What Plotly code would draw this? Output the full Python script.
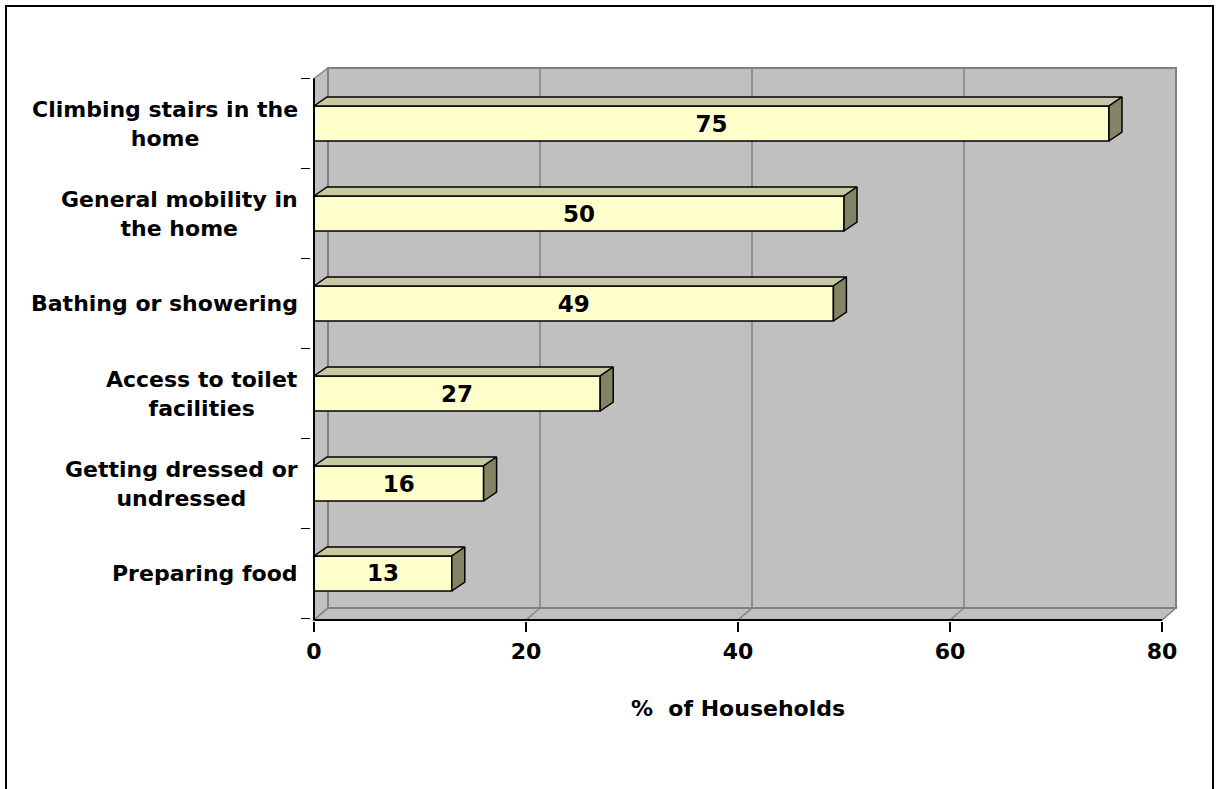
import plotly.graph_objects as go

# ---------------- data ----------------
categories = [
    "Preparing food",
    "Getting dressed or<br>undressed",
    "Access to toilet<br>facilities",
    "Bathing or showering",
    "General mobility in<br>the home",
    "Climbing stairs in the<br>home",
]
values = [13, 16, 27, 49, 50, 75]
x_ticks = [0, 20, 40, 60, 80]
x_title = "%\u00a0 of Households"

# ---------------- geometry / style ----------------
W, H = 1216, 789
FONT = "DejaVu Sans"
X0_PX, X80_PX = 314, 1162
PPU_X = (X80_PX - X0_PX) / 80.0
BAR0_PX = 573.5              # pixel centre of first category
PPU_Y = 90.0
XMIN, XMAX = -0.25, 81.5
YMIN, YMAX = -0.53, 5.64
AXB = -0.517         # front bottom edge
AXT = 5.5            # front top of category axis
XEND = x_ticks[-1]
DXW, DYW = 14 / PPU_X, 12 / PPU_Y     # wall depth
DXB, DYB = 13 / PPU_X, 9 / PPU_Y      # bar depth
BW = 35 / PPU_Y
WALL_TOP = 5.617

WALL = "#C0C0C0"
WALL_EDGE = "#808080"
FRONT = "#FFFFCC"
TOP = "#C8C8A2"
SIDE = "#838366"

dom_x = [(X0_PX + XMIN * PPU_X) / W, (X0_PX + XMAX * PPU_X) / W]
dom_y = [1 - (BAR0_PX - YMIN * PPU_Y) / H, 1 - (BAR0_PX - YMAX * PPU_Y) / H]

ys = list(range(len(categories)))

fig = go.Figure()

# front faces of the bars
fig.add_trace(go.Bar(
    x=values, y=ys, orientation="h", width=BW,
    marker=dict(color=FRONT, line=dict(color="black", width=1.5)),
    text=[str(v) for v in values], textposition="inside",
    insidetextanchor="middle", textangle=0,
    textfont=dict(family=FONT, size=23, color="black", weight="bold"),
    hoverinfo="skip", showlegend=False,
))

# top faces
tx, ty = [], []
for v, y in zip(values, ys):
    yt = y + BW / 2
    tx += [0, v, v + DXB, DXB, 0, None]
    ty += [yt, yt, yt + DYB, yt + DYB, yt, None]
fig.add_trace(go.Scatter(x=tx, y=ty, mode="lines", fill="toself", fillcolor=TOP,
                         line=dict(color="black", width=1.5), hoverinfo="skip",
                         showlegend=False))
# side faces
sx, sy = [], []
for v, y in zip(values, ys):
    yb, yt = y - BW / 2, y + BW / 2
    sx += [v, v + DXB, v + DXB, v, v, None]
    sy += [yb, yb + DYB, yt + DYB, yt, yb, None]
fig.add_trace(go.Scatter(x=sx, y=sy, mode="lines", fill="toself", fillcolor=SIDE,
                         line=dict(color="black", width=1.5), hoverinfo="skip",
                         showlegend=False))

shapes = []
# left side wall
shapes.append(dict(type="path", xref="x", yref="y", layer="below",
                   path=f"M 0,{AXB} L 0,{AXT} L {DXW},{WALL_TOP} L {DXW},{AXB + DYW} Z",
                   fillcolor=WALL, line=dict(color=WALL_EDGE, width=1.5)))
# floor
shapes.append(dict(type="path", xref="x", yref="y", layer="below",
                   path=f"M 0,{AXB} L {XEND},{AXB} L {XEND + DXW},{AXB + DYW} L {DXW},{AXB + DYW} Z",
                   fillcolor=WALL, line=dict(color=WALL_EDGE, width=1.5)))
# back wall
shapes.append(dict(type="rect", xref="x", yref="y", layer="below",
                   x0=DXW, x1=XEND + DXW, y0=AXB + DYW, y1=WALL_TOP,
                   fillcolor=WALL, line=dict(color=WALL_EDGE, width=2)))
# gridlines on wall and floor
for t in x_ticks[1:-1]:
    shapes.append(dict(type="line", xref="x", yref="y", layer="below",
                       x0=t + DXW, x1=t + DXW, y0=AXB + DYW, y1=WALL_TOP,
                       line=dict(color=WALL_EDGE, width=1.5)))
    shapes.append(dict(type="line", xref="x", yref="y", layer="below",
                       x0=t, x1=t + DXW, y0=AXB, y1=AXB + DYW,
                       line=dict(color=WALL_EDGE, width=1.5)))
# front axis lines
shapes.append(dict(type="line", xref="x", yref="y", layer="above",
                   x0=0, x1=XEND, y0=AXB, y1=AXB, line=dict(color="black", width=2)))
shapes.append(dict(type="line", xref="x", yref="y", layer="above",
                   x0=0, x1=0, y0=AXB, y1=AXT, line=dict(color="black", width=2)))
# outer border
shapes.append(dict(type="rect", xref="paper", yref="paper",
                   x0=6 / W, x1=1213 / W, y0=-0.05, y1=1 - 6 / H,
                   line=dict(color="black", width=2), fillcolor="rgba(0,0,0,0)"))

annotations = []
for c, y in zip(categories, ys):
    annotations.append(dict(text=c, x=300 / W, xref="paper", xanchor="right",
                            y=y, yref="y", yanchor="middle", align="center",
                            showarrow=False,
                            font=dict(family=FONT, size=22, color="black", weight="bold")))
annotations.append(dict(text=x_title, x=XEND / 2, xref="x", xanchor="center",
                        y=1 - 708 / H, yref="paper", yanchor="middle",
                        showarrow=False,
                        font=dict(family=FONT, size=22, color="black", weight="bold")))

fig.update_layout(
    template="none",
    width=W, height=H,
    margin=dict(l=0, r=0, t=0, b=0),
    paper_bgcolor="white", plot_bgcolor="rgba(0,0,0,0)",
    showlegend=False, bargap=0,
    shapes=shapes, annotations=annotations,
    xaxis=dict(domain=dom_x, range=[XMIN, XMAX], automargin=False,
               tickmode="array", tickvals=x_ticks, ticktext=[str(t) for t in x_ticks],
               ticks="outside", ticklen=10, tickwidth=1.5, tickcolor="black",
               showgrid=False, zeroline=False, showline=False,
               tickfont=dict(family=FONT, size=22, color="black", weight="bold")),
    yaxis=dict(domain=dom_y, range=[YMIN, YMAX], automargin=False,
               showticklabels=False, ticks="", showgrid=False, zeroline=False,
               showline=False,
               minor=dict(ticks="outside", tick0=-0.5, dtick=1, ticklen=9,
                          tickwidth=1.5, tickcolor="black", showgrid=False)),
)

fig.write_html("out.html",
               config={"displayModeBar": False, "staticPlot": True},
               post_script="document.body.style.margin='0px';document.body.style.overflow='hidden';")
